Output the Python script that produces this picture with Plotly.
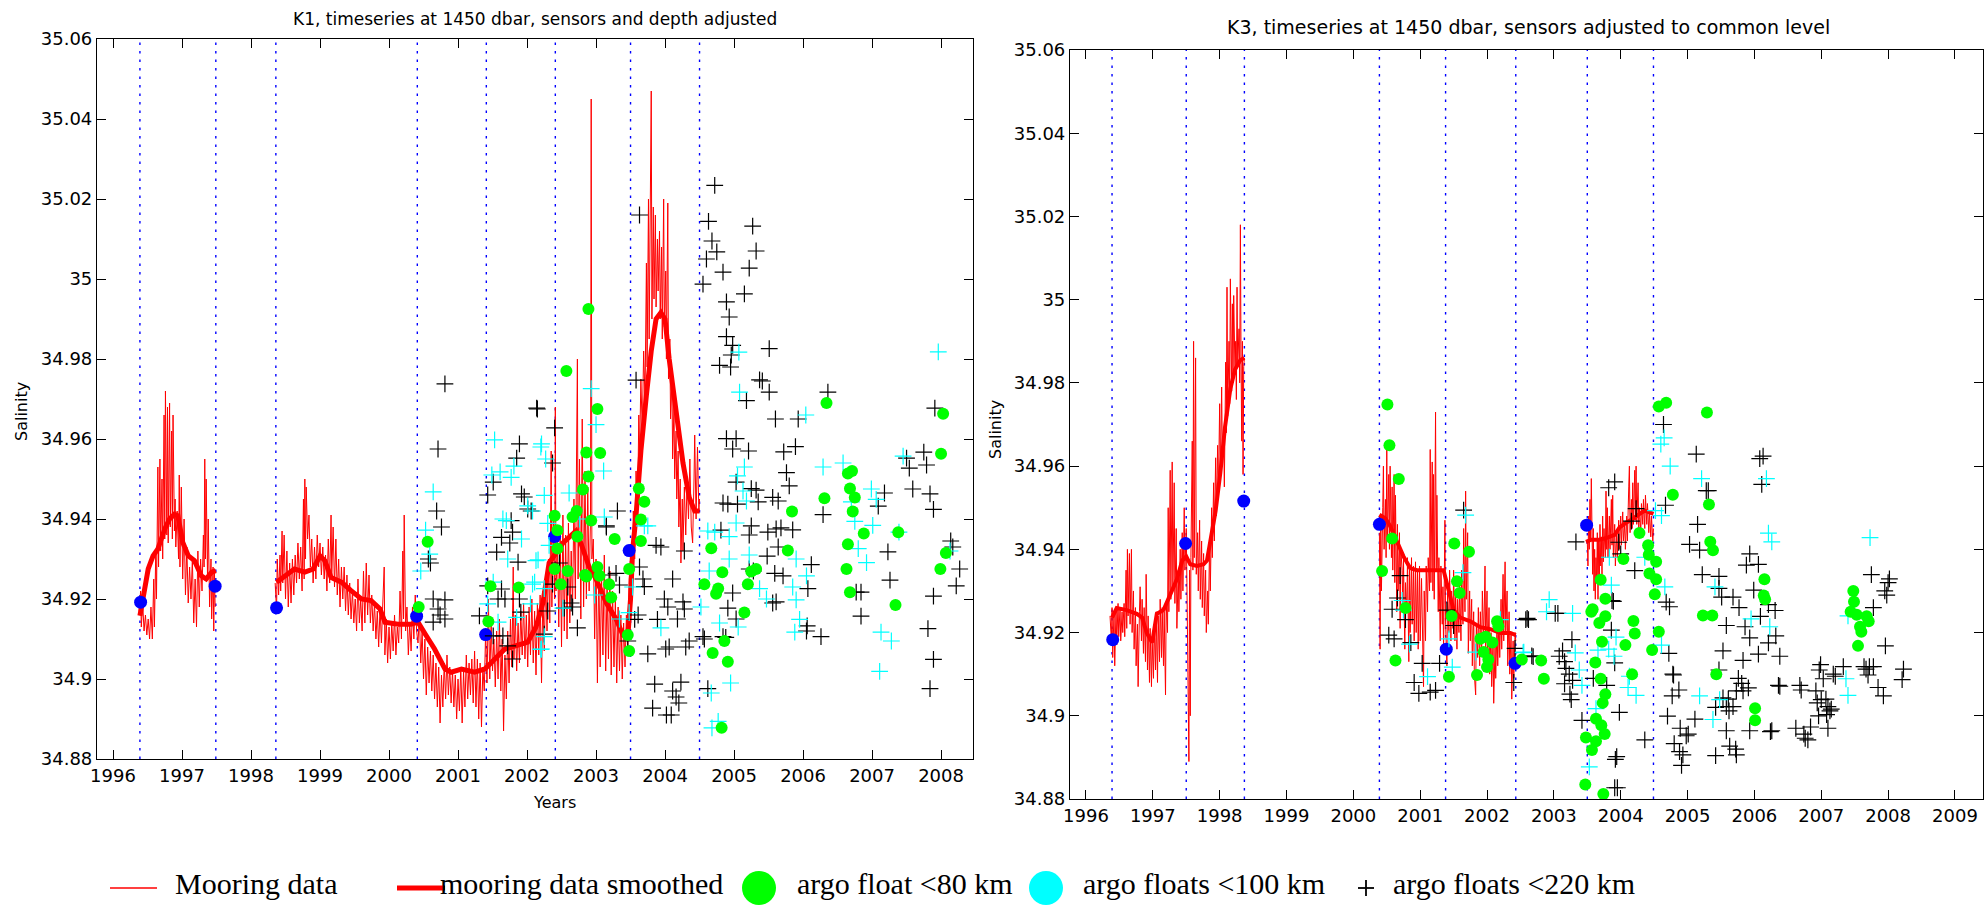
import plotly.graph_objects as go

# ---------------- DATA ----------------
deploy_k1 = [1996.39, 1997.49, 1998.36, 2000.41, 2001.41, 2002.41, 2003.50, 2004.50]
deploy_k3 = [1996.39, 1997.50, 1998.37, 2000.39, 2001.38, 2002.43, 2003.50, 2004.49]

years_k1 = [1996, 1997, 1998, 1999, 2000, 2001, 2002, 2003, 2004, 2005, 2006, 2007, 2008]
years_k3 = [1996, 1997, 1998, 1999, 2000, 2001, 2002, 2003, 2004, 2005, 2006, 2007, 2008, 2009]
sal_ticks = [34.88, 34.90, 34.92, 34.94, 34.96, 34.98, 35.00, 35.02, 35.04, 35.06]
sal_labels = ["34.88", "34.9", "34.92", "34.94", "34.96", "34.98", "35", "35.02", "35.04", "35.06"]

# K1 raw mooring data, segment 1
k1_raw1_t = [1996.38, 1996.40, 1996.41, 1996.43, 1996.45, 1996.47, 1996.49, 1996.51, 1996.53, 1996.55,
             1996.57, 1996.59, 1996.60, 1996.62, 1996.63, 1996.65, 1996.66, 1996.68, 1996.69, 1996.71,
             1996.72, 1996.74, 1996.75, 1996.76, 1996.78, 1996.79, 1996.80, 1996.82, 1996.83, 1996.85,
             1996.86, 1996.87, 1996.89, 1996.90, 1996.91, 1996.93, 1996.95, 1996.96, 1996.97, 1996.99,
             1997.01, 1997.03, 1997.05, 1997.07, 1997.09, 1997.11, 1997.13, 1997.15, 1997.17, 1997.19,
             1997.21, 1997.23, 1997.25, 1997.27, 1997.29, 1997.31, 1997.32, 1997.33, 1997.34, 1997.35,
             1997.37, 1997.38, 1997.40, 1997.42, 1997.43, 1997.45, 1997.46, 1997.47, 1997.48]
k1_raw1_s = [34.917, 34.922, 34.913, 34.919, 34.912, 34.916, 34.911, 34.915, 34.910, 34.918,
             34.910, 34.925, 34.913, 34.932, 34.920, 34.953, 34.928, 34.955, 34.932, 34.950,
             34.930, 34.966, 34.935, 34.972, 34.936, 34.968, 34.934, 34.969, 34.938, 34.962,
             34.935, 34.966, 34.937, 34.945, 34.933, 34.942, 34.930, 34.951, 34.928, 34.948,
             34.925, 34.940, 34.921, 34.933, 34.919, 34.928, 34.920, 34.930, 34.914, 34.925,
             34.913, 34.932, 34.918, 34.930, 34.922, 34.936, 34.928, 34.955, 34.930, 34.950,
             34.925, 34.940, 34.918, 34.930, 34.915, 34.928, 34.912, 34.927, 34.918]

# K1 raw mooring data, segment 2
k1_raw2_t = [1998.35, 1998.37, 1998.38, 1998.40, 1998.42, 1998.43, 1998.45, 1998.46, 1998.48, 1998.50,
             1998.52, 1998.54, 1998.56, 1998.58, 1998.60, 1998.62, 1998.64, 1998.66, 1998.68, 1998.70,
             1998.72, 1998.74, 1998.76, 1998.77, 1998.78, 1998.79, 1998.80, 1998.82, 1998.84, 1998.86,
             1998.88, 1998.90, 1998.92, 1998.94, 1998.96, 1998.98, 1999.00, 1999.02, 1999.04, 1999.06,
             1999.08, 1999.10, 1999.12, 1999.14, 1999.16, 1999.17, 1999.19, 1999.21, 1999.23, 1999.25,
             1999.27, 1999.29, 1999.31, 1999.33, 1999.35, 1999.37, 1999.39, 1999.41, 1999.43, 1999.45,
             1999.47, 1999.49, 1999.51, 1999.53, 1999.55, 1999.57, 1999.59, 1999.61, 1999.63, 1999.65,
             1999.67, 1999.69, 1999.71, 1999.73, 1999.75, 1999.77, 1999.79, 1999.81, 1999.83, 1999.85,
             1999.87, 1999.89, 1999.91, 1999.93, 1999.94, 1999.96, 1999.98, 2000.00, 2000.02, 2000.04,
             2000.06, 2000.08, 2000.10, 2000.12, 2000.14, 2000.16, 2000.18, 2000.20, 2000.21, 2000.22,
             2000.24, 2000.26, 2000.28, 2000.30, 2000.32, 2000.34, 2000.36, 2000.38, 2000.40, 2000.42,
             2000.44, 2000.46, 2000.48, 2000.50, 2000.52, 2000.54, 2000.56, 2000.58, 2000.60, 2000.62,
             2000.64, 2000.66, 2000.68, 2000.70, 2000.72, 2000.74, 2000.76, 2000.78, 2000.80, 2000.82,
             2000.84, 2000.86, 2000.88, 2000.90, 2000.92, 2000.94, 2000.96, 2000.98, 2001.00, 2001.02,
             2001.04, 2001.06, 2001.08, 2001.10, 2001.12, 2001.14, 2001.16, 2001.18, 2001.20, 2001.22,
             2001.24, 2001.26, 2001.28, 2001.30, 2001.32, 2001.34, 2001.36, 2001.38, 2001.40, 2001.42,
             2001.44, 2001.46, 2001.48, 2001.50, 2001.52, 2001.54, 2001.56, 2001.58, 2001.60, 2001.62,
             2001.64, 2001.66, 2001.68, 2001.70, 2001.72, 2001.74, 2001.76, 2001.78, 2001.80, 2001.81,
             2001.83, 2001.85, 2001.87, 2001.89, 2001.91, 2001.93, 2001.95, 2001.97, 2001.99, 2002.01,
             2002.03, 2002.05, 2002.07, 2002.09, 2002.11, 2002.13, 2002.15, 2002.17, 2002.19, 2002.21,
             2002.23, 2002.25, 2002.27, 2002.29, 2002.31, 2002.33, 2002.35, 2002.36, 2002.38, 2002.40,
             2002.41, 2002.42, 2002.44, 2002.46, 2002.48, 2002.50, 2002.52, 2002.54, 2002.56, 2002.58,
             2002.60, 2002.62, 2002.64, 2002.66, 2002.68, 2002.70, 2002.72, 2002.73, 2002.74, 2002.76,
             2002.78, 2002.80, 2002.82, 2002.84, 2002.86, 2002.88, 2002.90, 2002.92, 2002.93, 2002.94,
             2002.96, 2002.98, 2003.00, 2003.02, 2003.04, 2003.06, 2003.08, 2003.10, 2003.12, 2003.14,
             2003.16, 2003.18, 2003.20, 2003.22, 2003.24, 2003.26, 2003.28, 2003.30, 2003.32, 2003.34,
             2003.36, 2003.38, 2003.40, 2003.42, 2003.44, 2003.46, 2003.48, 2003.50, 2003.52, 2003.54,
             2003.56, 2003.58, 2003.60, 2003.62, 2003.63, 2003.65, 2003.67, 2003.69, 2003.71, 2003.73,
             2003.74, 2003.76, 2003.77, 2003.79, 2003.80, 2003.81, 2003.83, 2003.84, 2003.86, 2003.87,
             2003.89, 2003.90, 2003.92, 2003.93, 2003.95, 2003.96, 2003.98, 2003.99, 2004.01, 2004.02,
             2004.04, 2004.05, 2004.07, 2004.08, 2004.10, 2004.11, 2004.13, 2004.14, 2004.16, 2004.17,
             2004.19, 2004.20, 2004.22, 2004.23, 2004.25, 2004.26, 2004.28, 2004.30, 2004.32, 2004.34,
             2004.36, 2004.38, 2004.40, 2004.42, 2004.43, 2004.45, 2004.46, 2004.47, 2004.49, 2004.50]
k1_raw2_s = [34.924, 34.917, 34.930, 34.921, 34.931, 34.922, 34.937, 34.924, 34.936, 34.920,
             34.932, 34.918, 34.929, 34.919, 34.930, 34.921, 34.931, 34.924, 34.934, 34.925,
             34.933, 34.922, 34.945, 34.925, 34.950, 34.930, 34.948, 34.935, 34.941, 34.928,
             34.935, 34.924, 34.933, 34.925, 34.936, 34.928, 34.934, 34.926, 34.933, 34.925,
             34.931, 34.922, 34.935, 34.924, 34.941, 34.926, 34.938, 34.923, 34.935, 34.921,
             34.930, 34.918, 34.928, 34.920, 34.928, 34.917, 34.926, 34.916, 34.924, 34.915,
             34.922, 34.914, 34.920, 34.912, 34.925, 34.914, 34.920, 34.912, 34.927, 34.914,
             34.929, 34.916, 34.926, 34.914, 34.921, 34.912, 34.919, 34.910, 34.917, 34.908,
             34.918, 34.909, 34.919, 34.928, 34.906, 34.915, 34.904, 34.913, 34.905, 34.914,
             34.907, 34.916, 34.906, 34.913, 34.909, 34.922, 34.910, 34.932, 34.915, 34.941,
             34.912, 34.918, 34.906, 34.914, 34.907, 34.918, 34.910, 34.921, 34.912, 34.909,
             34.916, 34.904, 34.912, 34.900, 34.910, 34.896, 34.908, 34.899, 34.907, 34.897,
             34.906, 34.895, 34.904, 34.893, 34.903, 34.889, 34.901, 34.893, 34.904, 34.895,
             34.906, 34.896, 34.903, 34.894, 34.902, 34.893, 34.901, 34.890, 34.900, 34.892,
             34.903, 34.889, 34.902, 34.893, 34.906, 34.895, 34.904, 34.896, 34.905, 34.894,
             34.907, 34.893, 34.905, 34.890, 34.904, 34.888, 34.903, 34.897, 34.912, 34.899,
             34.920, 34.900, 34.914, 34.902, 34.910, 34.898, 34.912, 34.900, 34.915, 34.897,
             34.910, 34.887, 34.906, 34.895, 34.912, 34.899, 34.915, 34.903, 34.928, 34.905,
             34.916, 34.902, 34.914, 34.904, 34.917, 34.906, 34.919, 34.905, 34.916, 34.903,
             34.918, 34.906, 34.920, 34.904, 34.917, 34.901, 34.919, 34.906, 34.921, 34.899,
             34.922, 34.907, 34.925, 34.912, 34.930, 34.914, 34.957, 34.918, 34.940, 34.920,
             34.968, 34.922, 34.935, 34.913, 34.938, 34.908, 34.941, 34.912, 34.936, 34.910,
             34.939, 34.914, 34.932, 34.918, 34.945, 34.920, 34.960, 34.980, 34.925, 34.955,
             34.915, 34.965, 34.918, 34.952, 34.920, 34.948, 34.922, 34.940, 35.045, 34.930,
             34.935, 34.910, 34.930, 34.899, 34.928, 34.903, 34.926, 34.906, 34.931, 34.902,
             34.924, 34.905, 34.927, 34.901, 34.922, 34.903, 34.920, 34.899, 34.918, 34.902,
             34.916, 34.900, 34.914, 34.903, 34.916, 34.908, 34.925, 34.930, 34.920, 34.942,
             34.930, 34.952, 34.940, 34.966, 34.955, 34.975, 34.962, 34.982, 34.970, 35.004,
             34.978, 35.020, 34.985, 35.018, 35.047, 34.990, 35.018, 34.995, 35.016, 34.993,
             35.010, 34.997, 35.012, 34.990, 35.008, 34.985, 35.020, 34.988, 35.002, 34.980,
             35.019, 34.975, 34.985, 34.965, 34.975, 34.955, 34.968, 34.950, 34.962, 34.945,
             34.957, 34.938, 34.950, 34.929, 34.945, 34.932, 34.948, 34.936, 34.950, 34.940,
             34.955, 34.938, 34.934, 34.950, 34.961, 34.940, 34.950, 34.958, 34.942, 34.945]

# K1 smoothed
k1_sm1_t = [1996.39, 1996.44, 1996.51, 1996.58, 1996.65, 1996.75, 1996.82, 1996.89, 1996.94, 1997.01,
            1997.09, 1997.18, 1997.28, 1997.35, 1997.43, 1997.49]
k1_sm1_s = [34.9158, 34.9208, 34.9275, 34.9308, 34.9325, 34.9375, 34.9400, 34.9412, 34.9408, 34.9342,
            34.9308, 34.9296, 34.9258, 34.9250, 34.9267, 34.9271]
k1_sm2_t = [1998.37, 1998.49, 1998.63, 1998.78, 1998.90, 1999.00, 1999.07, 1999.16, 1999.31, 1999.45,
            1999.60, 1999.74, 1999.87, 1999.94, 2000.13, 2000.32, 2000.42, 2000.54, 2000.66, 2000.81,
            2000.90, 2001.05, 2001.24, 2001.39, 2001.48, 2001.58, 2001.68, 2001.82, 2002.01, 2002.13,
            2002.23, 2002.32, 2002.52, 2002.71, 2002.78, 2002.90, 2003.00, 2003.15, 2003.29, 2003.39,
            2003.46, 2003.50, 2003.53, 2003.58, 2003.65, 2003.73, 2003.80, 2003.87, 2003.94, 2004.00,
            2004.06, 2004.16, 2004.26, 2004.35, 2004.43, 2004.50]
k1_sm2_s = [34.9242, 34.9258, 34.9275, 34.9267, 34.9275, 34.9308, 34.9296, 34.9254, 34.9242, 34.9221,
            34.9200, 34.9196, 34.9175, 34.9142, 34.9137, 34.9137, 34.9142, 34.9108, 34.9075, 34.9025,
            34.9017, 34.9025, 34.9017, 34.9025, 34.9042, 34.9058, 34.9075, 34.9083, 34.9092, 34.9130,
            34.9190, 34.9290, 34.9340, 34.9370, 34.9340, 34.9280, 34.9250, 34.9190, 34.9150, 34.9110,
            34.9105, 34.9200, 34.9320, 34.9410, 34.9570, 34.9710, 34.9820, 34.9900, 34.9916, 34.9900,
            34.9800, 34.9670, 34.9540, 34.9454, 34.9420, 34.9420]

k1_blue_t = [1996.40, 1997.48, 1998.37, 2000.40, 2001.40, 2002.40, 2003.48]
k1_blue_s = [34.9192, 34.9232, 34.9178, 34.9157, 34.9111, 34.9356, 34.9321]

k1_green_t = [2000.56, 2000.43, 2001.47, 2001.44, 2001.88, 2002.89, 2002.57, 2003.02, 2002.86, 2003.06,
              2002.89, 2002.81, 2002.40, 2002.66, 2002.93, 2002.73, 2002.44, 2002.44, 2002.40, 2002.59,
              2002.49, 2002.86, 2003.02, 2003.05, 2003.19, 2003.22, 2003.27, 2003.62, 2003.70, 2003.65,
              2003.65, 2003.48, 2003.46, 2003.48, 2004.67, 2004.83, 2004.57, 2004.77, 2004.74, 2004.86,
              2004.69, 2004.91, 2004.82, 2005.15, 2005.25, 2005.32, 2005.20, 2005.78, 2005.84, 2006.34,
              2006.31, 2006.65, 2006.71, 2006.68, 2006.75, 2006.72, 2006.65, 2006.63, 2006.68, 2006.88,
              2007.38, 2007.34, 2008.03, 2008.00, 2008.07, 2007.99, 2002.72, 2002.84]
k1_green_s = [34.9343, 34.9180, 34.9232, 34.9144, 34.9229, 34.9925, 34.9770, 34.9675, 34.9566, 34.9565,
              34.9506, 34.9474, 34.9408, 34.9405, 34.9396, 34.9356, 34.9372, 34.9326, 34.9275, 34.9270,
              34.9237, 34.9256, 34.9280, 34.9258, 34.9237, 34.9204, 34.9350, 34.9476, 34.9443, 34.9399,
              34.9345, 34.9275, 34.9110, 34.9070, 34.9327, 34.9267, 34.9237, 34.9226, 34.9213, 34.9095,
              34.9065, 34.9043, 34.8878, 34.9166, 34.9269, 34.9275, 34.9237, 34.9321, 34.9419, 34.9690,
              34.9452, 34.9514, 34.9520, 34.9476, 34.9454, 34.9419, 34.9337, 34.9275, 34.9217, 34.9364,
              34.9367, 34.9185, 34.9663, 34.9563, 34.9315, 34.9275, 34.9420, 34.9260]

k1_cyan_t = [2000.53, 2000.64, 2000.46, 2000.59, 2001.53, 2001.49, 2001.61, 2001.77, 2001.81, 2001.65,
             2001.70, 2001.92, 2001.72, 2002.16, 2002.01, 2002.21, 2001.51, 2001.43, 2002.05, 2001.85,
             2001.58, 2002.11, 2002.21, 2002.93, 2003.00, 2003.11, 2002.20, 2002.27, 2002.25, 2002.61,
             2002.08, 2002.30, 2002.76, 2003.12, 2002.13, 2002.32, 2002.08, 2002.25, 2002.98, 2002.52,
             2003.34, 2003.48, 2003.53, 2003.70, 2003.75, 2002.25, 2002.20, 2003.94, 2004.62, 2004.72,
             2004.93, 2004.79, 2004.52, 2004.64, 2004.67, 2004.68, 2004.77, 2004.95, 2005.07, 2005.08,
             2005.15, 2005.05, 2005.13, 2005.18, 2005.03, 2004.93, 2005.22, 2005.37, 2005.47, 2005.06,
             2005.90, 2006.05, 2005.85, 2005.90, 2005.95, 2005.88, 2006.04, 2006.29, 2006.58, 2006.70,
             2006.75, 2006.99, 2007.06, 2007.01, 2006.80, 2006.92, 2007.13, 2007.28, 2007.11, 2007.45,
             2007.39, 2007.96, 2008.13]
k1_cyan_s = [34.9372, 34.9468, 34.9270, 34.9312, 34.9598, 34.9510, 34.9518, 34.9504, 34.9532, 34.9400,
             34.9396, 34.9350, 34.9300, 34.9298, 34.9433, 34.9588, 34.9242, 34.9188, 34.9188, 34.9154,
             34.9142, 34.9242, 34.9075, 34.9726, 34.9636, 34.9520, 34.9580, 34.9550, 34.9459, 34.9465,
             34.9420, 34.9389, 34.9400, 34.9405, 34.9296, 34.9334, 34.9237, 34.9226, 34.9210, 34.9177,
             34.9150, 34.9166, 34.9230, 34.9383, 34.9383, 34.9106, 34.9074, 34.9128, 34.9370, 34.9367,
             34.9356, 34.9140, 34.9180, 34.9270, 34.8965, 34.8878, 34.8894, 34.8990, 34.9817, 34.9717,
             34.9530, 34.9508, 34.9470, 34.9445, 34.9390, 34.9300, 34.9310, 34.9226, 34.9200, 34.9130,
             34.9300, 34.9258, 34.9230, 34.9198, 34.9149, 34.9117, 34.9660, 34.9530, 34.9540, 34.9443,
             34.9394, 34.9475, 34.9449, 34.9384, 34.9326, 34.9291, 34.9117, 34.9095, 34.9019, 34.9557,
             34.9367, 34.9818, 34.9320]

k1_black_t = [2000.81, 2000.71, 2000.69, 2000.76, 2000.57, 2000.60, 2000.64, 2000.81, 2000.71, 2000.64,
              2000.81, 2000.74, 2002.14, 2001.89, 2001.85, 2001.51, 2001.43, 2001.92, 2001.96, 2002.01,
              2001.77, 2001.79, 2001.63, 2001.75, 2001.56, 2001.87, 2001.43, 2001.63, 2001.58, 2001.68,
              2001.89, 2001.91, 2001.31, 2001.51, 2001.65, 2001.72, 2001.79, 2002.15, 2002.40, 2002.37,
              2002.06, 2003.31, 2003.15, 2003.63, 2003.58, 2004.72, 2004.63, 2004.68, 2004.75, 2004.60,
              2004.55, 2004.84, 2005.27, 2005.32, 2005.22, 2005.15, 2004.89, 2004.93, 2004.89, 2004.98,
              2004.96, 2004.79, 2004.95, 2005.51, 2005.37, 2005.41, 2005.51, 2005.18, 2005.60, 2005.93,
              2006.36, 2004.89, 2005.03, 2004.98, 2005.21, 2005.72, 2005.89, 2005.76, 2005.80, 2007.75,
              2007.79, 2007.50, 2007.54, 2007.59, 2007.84, 2007.89, 2007.91, 2007.18, 2007.09, 2004.84,
              2004.91, 2005.05, 2005.03, 2005.25, 2005.32, 2005.35, 2005.56, 2005.64, 2005.25, 2005.22,
              2005.49, 2005.61, 2005.68, 2005.85, 2004.81, 2006.29, 2005.64, 2005.48, 2005.59, 2005.71,
              2006.12, 2006.07, 2007.23, 2007.26, 2008.14, 2008.17, 2008.27, 2008.22, 2007.89, 2007.81,
              2007.89, 2007.84, 2006.84, 2006.77, 2006.84, 2006.26, 2006.06, 2006.05, 2005.61, 2005.56,
              2004.98, 2004.91, 2005.03, 2004.84, 2004.88, 2005.22, 2005.28, 2004.11, 2003.87, 2003.94,
              2004.28, 2003.99, 2004.04, 2004.26, 2004.28, 2003.89, 2004.18, 2004.35, 2004.30, 2004.06,
              2004.01, 2003.75, 2003.85, 2004.23, 2004.11, 2004.16, 2004.20, 2003.82, 2004.02, 2004.09,
              2004.62, 2004.55, 2004.57, 2003.70, 2003.68, 2003.63, 2003.56, 2003.61, 2003.46, 2003.29,
              2003.34, 2002.73, 2002.66, 2002.59, 2002.47, 2002.37, 2002.30, 2002.25, 2002.54, 2002.64,
              2003.15, 2003.19]
k1_black_s = [34.9738, 34.9575, 34.9420, 34.9380, 34.9300, 34.9290, 34.9200, 34.9198, 34.9175, 34.9142,
              34.9150, 34.9160, 34.9677, 34.9588, 34.9552, 34.9492, 34.9460, 34.9463, 34.9455, 34.9425,
              34.9396, 34.9367, 34.9354, 34.9340, 34.9317, 34.9292, 34.9233, 34.9225, 34.9200, 34.9200,
              34.9200, 34.9167, 34.9158, 34.9108, 34.9108, 34.9083, 34.9050, 34.9675, 34.9628, 34.9540,
              34.9420, 34.9420, 34.9383, 35.0160, 34.9747, 35.0234, 35.0144, 35.0095, 35.0068, 35.0050,
              34.9987, 35.0017, 35.0132, 35.0070, 35.0027, 34.9963, 34.9943, 34.9905, 34.9856, 34.9834,
              34.9810, 34.9784, 34.9780, 34.9826, 34.9748, 34.9745, 34.9717, 34.9696, 34.9650, 34.9650,
              34.9717, 34.9601, 34.9601, 34.9575, 34.9570, 34.9568, 34.9581, 34.9516, 34.9483, 34.9567,
              34.9535, 34.9552, 34.9527, 34.9475, 34.9463, 34.9424, 34.9677, 34.9465, 34.9432, 34.9440,
              34.9437, 34.9437, 34.9492, 34.9476, 34.9472, 34.9443, 34.9454, 34.9445, 34.9383, 34.9360,
              34.9367, 34.9375, 34.9378, 34.9373, 34.9372, 34.9411, 34.9330, 34.9307, 34.9264, 34.9258,
              34.9286, 34.9226, 34.9318, 34.9247, 34.9345, 34.9330, 34.9275, 34.9233, 34.9207, 34.9126,
              34.9049, 34.8976, 34.9157, 34.9217, 34.9217, 34.9106, 34.9133, 34.9120, 34.9193, 34.9190,
              34.9215, 34.9177, 34.9150, 34.9106, 34.9104, 34.9275, 34.9270, 34.9250, 34.9334, 34.9330,
              34.9320, 34.9200, 34.9180, 34.9193, 34.9175, 34.9149, 34.9150, 34.9095, 34.9080, 34.9080,
              34.9075, 34.9063, 34.8987, 34.8992, 34.8970, 34.8955, 34.8940, 34.8927, 34.8910, 34.8910,
              34.8976, 34.9106, 34.9100, 34.9231, 34.9250, 34.9280, 34.9149, 34.9160, 34.9095, 34.9264,
              34.9235, 34.9128, 34.9180, 34.9230, 34.9290, 34.9237, 34.9170, 34.9112, 34.9177, 34.9190,
              34.9380, 34.9260]

# K3 raw mooring data
k3_raw1_t = [1996.36, 1996.38, 1996.39, 1996.40, 1996.42, 1996.43, 1996.45, 1996.46, 1996.48, 1996.49,
             1996.51, 1996.52, 1996.54, 1996.55, 1996.57, 1996.58, 1996.60, 1996.61, 1996.62, 1996.63,
             1996.65, 1996.66, 1996.68, 1996.69, 1996.71, 1996.72, 1996.74, 1996.75, 1996.77, 1996.78,
             1996.80, 1996.81, 1996.83, 1996.84, 1996.86, 1996.87, 1996.89, 1996.90, 1996.92, 1996.93,
             1996.95, 1996.96, 1996.98, 1996.99, 1997.01, 1997.02, 1997.04, 1997.05, 1997.07, 1997.08,
             1997.10, 1997.11, 1997.13, 1997.14, 1997.16, 1997.17, 1997.19, 1997.20, 1997.22, 1997.23,
             1997.24, 1997.26, 1997.27, 1997.29, 1997.30, 1997.32, 1997.33, 1997.35, 1997.36, 1997.38,
             1997.39, 1997.41, 1997.42, 1997.44, 1997.45, 1997.47, 1997.48, 1997.50, 1997.51, 1997.53,
             1997.54, 1997.55, 1997.56, 1997.57, 1997.59, 1997.60, 1997.61, 1997.62, 1997.64, 1997.65,
             1997.67, 1997.68, 1997.70, 1997.71, 1997.73, 1997.74, 1997.76, 1997.77, 1997.79, 1997.80,
             1997.82, 1997.83, 1997.85, 1997.86, 1997.88, 1997.89, 1997.91, 1997.92, 1997.94, 1997.95,
             1997.97, 1997.98, 1998.00, 1998.01, 1998.03, 1998.04, 1998.06, 1998.07, 1998.09, 1998.10,
             1998.11, 1998.12, 1998.14, 1998.15, 1998.16, 1998.18, 1998.19, 1998.20, 1998.21, 1998.23,
             1998.24, 1998.25, 1998.26, 1998.27, 1998.29, 1998.30, 1998.31, 1998.32, 1998.33, 1998.34,
             1998.35, 1998.36, 1998.37]
k3_raw1_s = [34.924, 34.918, 34.926, 34.914, 34.925, 34.912, 34.926, 34.917, 34.927, 34.919,
             34.926, 34.918, 34.925, 34.920, 34.927, 34.919, 34.935, 34.921, 34.940, 34.924,
             34.939, 34.922, 34.940, 34.920, 34.930, 34.916, 34.926, 34.912, 34.922, 34.907,
             34.925, 34.931, 34.918, 34.928, 34.915, 34.926, 34.913, 34.934, 34.911, 34.924,
             34.908, 34.921, 34.907, 34.918, 34.909, 34.922, 34.911, 34.925, 34.908, 34.924,
             34.913, 34.928, 34.914, 34.926, 34.912, 34.925, 34.905, 34.927, 34.920, 34.950,
             34.925, 34.959, 34.928, 34.961, 34.930, 34.956, 34.927, 34.945, 34.921, 34.935,
             34.925, 34.940, 34.928, 34.944, 34.930, 34.950, 34.935, 34.945, 34.932, 34.905,
             34.889, 34.935, 34.900, 34.938, 34.966, 34.935, 34.990, 34.938, 34.986, 34.934,
             34.944, 34.930, 34.947, 34.928, 34.942, 34.926, 34.939, 34.924, 34.935, 34.920,
             34.930, 34.922, 34.942, 34.930, 34.950, 34.938, 34.956, 34.942, 34.962, 34.948,
             34.965, 34.952, 34.975, 34.958, 34.979, 34.962, 34.968, 34.955, 34.985, 34.968,
             35.003, 34.972, 34.990, 34.975, 35.005, 34.978, 34.999, 34.980, 35.001, 34.982,
             34.990, 34.976, 35.003, 34.984, 34.993, 34.980, 35.018, 34.985, 34.966, 34.990,
             34.958, 34.984, 34.986]

k3_raw3_t = [2000.39, 2000.40, 2000.41, 2000.42, 2000.44, 2000.45, 2000.46, 2000.48, 2000.49, 2000.50,
             2000.51, 2000.53, 2000.54, 2000.55, 2000.57, 2000.58, 2000.59, 2000.61, 2000.62, 2000.63,
             2000.65, 2000.66, 2000.67, 2000.69, 2000.70, 2000.71, 2000.73, 2000.74, 2000.75, 2000.77,
             2000.78, 2000.80, 2000.81, 2000.83, 2000.84, 2000.85, 2000.87, 2000.88, 2000.90, 2000.91,
             2000.93, 2000.94, 2000.96, 2000.97, 2000.99, 2001.00, 2001.02, 2001.03, 2001.05, 2001.06,
             2001.08, 2001.09, 2001.11, 2001.12, 2001.14, 2001.15, 2001.16, 2001.18, 2001.19, 2001.20,
             2001.21, 2001.23, 2001.24, 2001.25, 2001.27, 2001.28, 2001.30, 2001.31, 2001.33, 2001.34,
             2001.35, 2001.37, 2001.38, 2001.40, 2001.41, 2001.43, 2001.44, 2001.46, 2001.47, 2001.49,
             2001.50, 2001.52, 2001.53, 2001.55, 2001.56, 2001.58, 2001.59, 2001.61, 2001.62, 2001.64,
             2001.65, 2001.67, 2001.68, 2001.69, 2001.71, 2001.72, 2001.74, 2001.75, 2001.77, 2001.78,
             2001.80, 2001.81, 2001.83, 2001.84, 2001.86, 2001.87, 2001.89, 2001.90, 2001.92, 2001.93,
             2001.95, 2001.97, 2001.98, 2002.00, 2002.01, 2002.03, 2002.04, 2002.06, 2002.07, 2002.09,
             2002.10, 2002.12, 2002.13, 2002.15, 2002.16, 2002.18, 2002.19, 2002.21, 2002.22, 2002.24,
             2002.25, 2002.27, 2002.28, 2002.30, 2002.31, 2002.33, 2002.34, 2002.36, 2002.37, 2002.39,
             2002.40, 2002.42, 2002.43]
k3_raw3_s = [34.944, 34.916, 34.948, 34.930, 34.950, 34.960, 34.940, 34.952, 34.938, 34.965,
             34.942, 34.958, 34.940, 34.960, 34.938, 34.955, 34.935, 34.958, 34.932, 34.953,
             34.925, 34.946, 34.930, 34.944, 34.921, 34.940, 34.935, 34.925, 34.938, 34.916,
             34.932, 34.925, 34.938, 34.913, 34.935, 34.920, 34.938, 34.922, 34.936, 34.918,
             34.937, 34.920, 34.935, 34.916, 34.936, 34.918, 34.933, 34.920, 34.907, 34.930,
             34.918, 34.936, 34.925, 34.938, 34.930, 34.964, 34.932, 34.961, 34.930, 34.958,
             34.928, 34.973, 34.935, 34.953, 34.925, 34.938, 34.918, 34.936, 34.922, 34.931,
             34.916, 34.947, 34.922, 34.912, 34.930, 34.920, 34.935, 34.918, 34.930, 34.921,
             34.935, 34.918, 34.930, 34.916, 34.928, 34.920, 34.932, 34.918, 34.935, 34.922,
             34.945, 34.925, 34.954, 34.928, 34.944, 34.915, 34.930, 34.918, 34.928, 34.912,
             34.925, 34.910, 34.905, 34.922, 34.914, 34.926, 34.912, 34.925, 34.915, 34.930,
             34.918, 34.936, 34.916, 34.930, 34.912, 34.926, 34.910, 34.920, 34.907, 34.918,
             34.903, 34.917, 34.909, 34.922, 34.912, 34.924, 34.914, 34.928, 34.916, 34.934,
             34.918, 34.937, 34.920, 34.930, 34.912, 34.925, 34.910, 34.920, 34.904, 34.918,
             34.909, 34.920, 34.918]

k3_raw4_t = [2003.50, 2003.51, 2003.52, 2003.53, 2003.54, 2003.55, 2003.56, 2003.57, 2003.58, 2003.59,
             2003.60, 2003.61, 2003.62, 2003.63, 2003.64, 2003.65, 2003.66, 2003.67, 2003.68, 2003.69,
             2003.70, 2003.71, 2003.72, 2003.73, 2003.74, 2003.75, 2003.77, 2003.78, 2003.79, 2003.80,
             2003.81, 2003.83, 2003.84, 2003.86, 2003.87, 2003.88, 2003.89, 2003.91, 2003.92, 2003.94,
             2003.95, 2003.97, 2003.98, 2004.00, 2004.01, 2004.03, 2004.04, 2004.06, 2004.07, 2004.09,
             2004.10, 2004.12, 2004.13, 2004.14, 2004.16, 2004.17, 2004.18, 2004.19, 2004.21, 2004.22,
             2004.23, 2004.24, 2004.26, 2004.27, 2004.28, 2004.30, 2004.31, 2004.33, 2004.34, 2004.36,
             2004.37, 2004.39, 2004.40, 2004.42, 2004.43, 2004.45, 2004.46, 2004.48, 2004.49]
k3_raw4_s = [34.942, 34.936, 34.948, 34.940, 34.952, 34.942, 34.957, 34.938, 34.934, 34.945,
             34.930, 34.940, 34.928, 34.938, 34.932, 34.944, 34.928, 34.942, 34.934, 34.946,
             34.936, 34.943, 34.934, 34.948, 34.937, 34.945, 34.938, 34.954, 34.940, 34.950,
             34.938, 34.948, 34.940, 34.952, 34.941, 34.953, 34.938, 34.946, 34.936, 34.944,
             34.938, 34.947, 34.940, 34.948, 34.941, 34.949, 34.942, 34.946, 34.940, 34.948,
             34.942, 34.955, 34.960, 34.944, 34.952, 34.945, 34.956, 34.946, 34.959, 34.947,
             34.960, 34.946, 34.956, 34.945, 34.950, 34.944, 34.951, 34.946, 34.952, 34.945,
             34.953, 34.946, 34.951, 34.944, 34.949, 34.943, 34.948, 34.942, 34.945]

# K3 smoothed
k3_sm1_t = [1996.39, 1996.46, 1996.61, 1996.76, 1996.84, 1996.91, 1996.99, 1997.06, 1997.16, 1997.26,
            1997.36, 1997.44, 1997.50, 1997.56, 1997.66, 1997.76, 1997.81, 1997.86, 1997.94, 1998.01,
            1998.08, 1998.16, 1998.23, 1998.31, 1998.37]
k3_sm1_s = [34.9236, 34.9259, 34.9254, 34.9245, 34.9236, 34.9199, 34.9176, 34.9245, 34.9254, 34.9291,
            34.9328, 34.9373, 34.9383, 34.9364, 34.9360, 34.9364, 34.9373, 34.9419, 34.9493, 34.9584,
            34.9694, 34.9786, 34.9832, 34.9855, 34.9860]
k3_sm3_t = [2000.39, 2000.48, 2000.55, 2000.65, 2000.75, 2000.85, 2000.95, 2001.15, 2001.35, 2001.40,
            2001.50, 2001.60, 2001.75, 2001.90, 2002.05, 2002.20, 2002.35, 2002.43]
k3_sm3_s = [34.9483, 34.9474, 34.9456, 34.9419, 34.9383, 34.9355, 34.9350, 34.9350, 34.9350, 34.9318,
            34.9254, 34.9236, 34.9227, 34.9213, 34.9208, 34.9199, 34.9199, 34.9194]
k3_sm4_t = [2003.48, 2003.56, 2003.68, 2003.78, 2003.91, 2003.98, 2004.08, 2004.18, 2004.28, 2004.36,
            2004.43, 2004.49]
k3_sm4_s = [34.9418, 34.9423, 34.9423, 34.9427, 34.9435, 34.9452, 34.9464, 34.9473, 34.9485, 34.9493,
            34.9489, 34.9485]

k3_blue_t = [1996.40, 1997.49, 1998.36, 2000.39, 2001.39, 2002.42, 2003.49]
k3_blue_s = [34.9183, 34.9414, 34.9516, 34.9460, 34.9160, 34.9126, 34.9458]

k3_green_t = [2000.51, 2000.54, 2000.68, 2000.58, 2000.43, 2000.78, 2000.63, 2001.51, 2001.73, 2001.55,
              2001.59, 2001.47, 2001.43, 2001.90, 2001.98, 2002.08, 2001.95, 2002.02, 2002.00, 2001.85,
              2002.15, 2002.17, 2002.52, 2002.81, 2002.85, 2004.57, 2004.68, 2005.29, 2004.78, 2005.32,
              2005.34, 2005.38, 2004.28, 2004.41, 2004.42, 2004.53, 2004.43, 2004.53, 2004.04, 2003.70,
              2004.51, 2003.77, 2003.58, 2003.56, 2003.77, 2003.68, 2004.19, 2004.21, 2004.07, 2003.72,
              2003.62, 2003.70, 2004.57, 2004.47, 2004.17, 2003.77, 2003.73, 2003.63, 2003.71, 2003.76,
              2003.48, 2003.63, 2003.57, 2003.47, 2003.74, 2005.23, 2005.37, 2005.43, 2006.15, 2006.14,
              2006.16, 2006.01, 2006.01, 2007.48, 2007.49, 2007.44, 2007.53, 2007.68, 2007.71, 2007.58,
              2007.60, 2007.55]
k3_green_s = [34.9748, 34.9650, 34.9569, 34.9426, 34.9348, 34.9259, 34.9133, 34.9414, 34.9394, 34.9323,
              34.9295, 34.9240, 34.9094, 34.9185, 34.9190, 34.9176, 34.9153, 34.9135, 34.9117, 34.9098,
              34.9227, 34.9215, 34.9135, 34.9133, 34.9089, 34.9743, 34.9752, 34.9729, 34.9531, 34.9508,
              34.9418, 34.9398, 34.9439, 34.9410, 34.9387, 34.9370, 34.9342, 34.9328, 34.9377, 34.9327,
              34.9292, 34.9281, 34.9256, 34.9250, 34.9239, 34.9223, 34.9228, 34.9198, 34.9170, 34.9178,
              34.9128, 34.9089, 34.9202, 34.9158, 34.9100, 34.9052, 34.9031, 34.8993, 34.8977, 34.8956,
              34.8948, 34.8939, 34.8918, 34.8835, 34.8812, 34.9241, 34.9241, 34.9100, 34.9328, 34.9289,
              34.9280, 34.9018, 34.8989, 34.9300, 34.9274, 34.9250, 34.9243, 34.9239, 34.9227, 34.9214,
              34.9202, 34.9168]

k3_cyan_t = [2001.68, 2001.64, 2000.73, 2000.75, 2000.84, 2001.43, 2001.48, 2001.11, 2001.83, 2002.20,
             2002.55, 2004.65, 2004.60, 2004.74, 2005.21, 2006.18, 2006.21, 2006.26, 2007.73, 2004.52,
             2004.61, 2003.83, 2004.36, 2003.86, 2004.66, 2005.41, 2002.93, 2002.89, 2003.28, 2005.95,
             2006.23, 2003.93, 2003.66, 2003.82, 2002.54, 2003.32, 2003.90, 2003.38, 2004.13, 2004.61,
             2003.42, 2004.11, 2004.23, 2005.18, 2005.48, 2005.38, 2007.37, 2007.40, 2003.63, 2003.53,
             2007.40]
k3_cyan_s = [34.9482, 34.9344, 34.9277, 34.9254, 34.9172, 34.9185, 34.9117, 34.9094, 34.9153, 34.9231,
             34.9153, 34.9668, 34.9653, 34.9600, 34.9570, 34.9570, 34.9439, 34.9418, 34.9428, 34.9493,
             34.9481, 34.9381, 34.9381, 34.9314, 34.9310, 34.9310, 34.9279, 34.9250, 34.9246, 34.9233,
             34.9214, 34.9189, 34.9158, 34.9160, 34.9152, 34.9151, 34.9143, 34.9110, 34.9095, 34.9170,
             34.9073, 34.9068, 34.9049, 34.9048, 34.9039, 34.8991, 34.9089, 34.9049, 34.9017, 34.8877,
             34.9240]

k3_black_t = [2001.65, 2000.70, 2000.66, 2000.58, 2000.78, 2000.53, 2000.61, 2000.86, 2001.03, 2000.91,
              2000.98, 2001.15, 2001.23, 2001.29, 2001.40, 2001.50, 2002.60, 2002.42, 2002.67, 2002.40,
              2005.13, 2006.13, 2006.08, 2006.11, 2004.64, 2005.28, 2005.31, 2004.67, 2003.91, 2003.82,
              2004.23, 2004.16, 2005.15, 2003.33, 2003.97, 2005.03, 2005.18, 2004.00, 2004.21, 2005.93,
              2005.88, 2006.06, 2005.22, 2005.47, 2005.47, 2005.51, 2005.68, 2005.77, 2005.99, 2008.02,
              2007.95, 2007.75, 2007.98, 2006.21, 2006.31, 2004.68, 2004.73, 2003.87, 2003.89, 2007.78,
              2005.58, 2005.86, 2006.09, 2005.93, 2006.21, 2006.32, 2005.53, 2006.06, 2006.38, 2005.83,
              2004.72, 2007.96, 2003.27, 2003.13, 2003.08, 2003.16, 2003.18, 2003.23, 2003.28, 2003.16,
              2003.24, 2003.26, 2002.69, 2002.58, 2002.62, 2003.02, 2003.06, 2003.86, 2003.91, 2003.79,
              2003.59, 2003.98, 2003.42, 2004.36, 2003.94, 2003.92, 2003.91, 2003.95, 2004.78, 2004.79,
              2004.77, 2004.87, 2004.70, 2005.11, 2004.89, 2005.01, 2004.98, 2004.80, 2004.88, 2004.93,
              2004.91, 2005.42, 2005.63, 2005.72, 2005.73, 2005.58, 2005.47, 2005.42, 2005.53, 2005.61,
              2005.58, 2005.62, 2005.68, 2005.73, 2005.81, 2005.83, 2005.91, 2005.76, 2005.93, 2006.26,
              2006.24, 2006.36, 2006.38, 2006.68, 2006.70, 2006.62, 2006.74, 2006.76, 2006.84, 2006.80,
              2006.92, 2006.94, 2006.97, 2006.99, 2007.03, 2007.07, 2007.00, 2007.10, 2007.13, 2007.15,
              2007.08, 2006.96, 2007.10, 2007.18, 2007.21, 2007.33, 2007.64, 2007.67, 2007.72, 2007.78,
              2007.70, 2007.85, 2007.93, 2008.23, 2008.21, 2008.00]
k3_black_s = [34.9494, 34.9337, 34.9283, 34.9256, 34.9231, 34.9194, 34.9185, 34.9176, 34.9126, 34.9080,
              34.9054, 34.9057, 34.9061, 34.9126, 34.9254, 34.9217, 34.9234, 34.9162, 34.9144, 34.9080,
              34.9629, 34.9624, 34.9618, 34.9556, 34.9700, 34.9541, 34.9541, 34.9506, 34.9562, 34.9548,
              34.9498, 34.9468, 34.9460, 34.9418, 34.9417, 34.9412, 34.9398, 34.9389, 34.9349, 34.9389,
              34.9362, 34.9364, 34.9339, 34.9335, 34.9306, 34.9285, 34.9285, 34.9260, 34.9302, 34.9329,
              34.9300, 34.9339, 34.9290, 34.9267, 34.9253, 34.9273, 34.9262, 34.9277, 34.9275, 34.9260,
              34.9217, 34.9214, 34.9239, 34.9187, 34.9175, 34.9192, 34.9156, 34.9148, 34.9143, 34.9133,
              34.9150, 34.9168, 34.9183, 34.9156, 34.9143, 34.9130, 34.9114, 34.9100, 34.9085, 34.9077,
              34.9052, 34.9039, 34.9142, 34.9231, 34.9231, 34.9246, 34.9246, 34.9206, 34.9127, 34.9073,
              34.9090, 34.9008, 34.8989, 34.8942, 34.8902, 34.8895, 34.8827, 34.8827, 34.9100, 34.9098,
              34.9048, 34.9062, 34.8999, 34.8992, 34.8970, 34.8956, 34.8952, 34.8933, 34.8914, 34.8906,
              34.8881, 34.8904, 34.8927, 34.8920, 34.8906, 34.8964, 34.9110, 34.9020, 34.9043, 34.9040,
              34.9022, 34.9012, 34.9022, 34.9060, 34.9078, 34.9060, 34.9067, 34.9090, 34.8964, 34.8964,
              34.8962, 34.9073, 34.9071, 34.9073, 34.9062, 34.8970, 34.8956, 34.8946, 34.8973, 34.8942,
              34.9060, 34.9031, 34.9110, 34.9123, 34.9089, 34.9040, 34.9039, 34.9022, 34.9012, 34.9016,
              34.9003, 34.9000, 34.8970, 34.9100, 34.9095, 34.9118, 34.9118, 34.9112, 34.9118, 34.9118,
              34.9098, 34.9068, 34.9048, 34.9112, 34.9087, 34.9320]

legend_labels = ["Mooring data", "mooring data smoothed", "argo float <80 km",
                 "argo floats <100 km", "argo floats <220 km"]

# ---------------- STYLE / LAYOUT ----------------
W, H = 1988, 906
RED, BLUE, GREEN, CYAN = "#ff0000", "#0000ff", "#00ff00", "#00ffff"
SANS = "DejaVu Sans, Liberation Sans, Arial, sans-serif"
SERIF = "Liberation Serif, Times New Roman, serif"


def px(x):
    return x / W


def py(y):
    return 1 - y / H


def seg(*parts):
    out = []
    for i, p in enumerate(parts):
        if i:
            out.append(None)
        out.extend(p)
    return out


fig = go.Figure()


def add_panel(xa, ya, raw_t, raw_s, sm_t, sm_s, blue_t, blue_s, blk_t, blk_s,
              cy_t, cy_s, gr_t, gr_s, sm_w, msize):
    fig.add_trace(go.Scatter(x=raw_t, y=raw_s, mode="lines", line=dict(color=RED, width=1),
                             xaxis=xa, yaxis=ya, showlegend=False, hoverinfo="skip"))
    fig.add_trace(go.Scatter(x=sm_t, y=sm_s, mode="lines", line=dict(color=RED, width=sm_w),
                             xaxis=xa, yaxis=ya, showlegend=False, hoverinfo="skip"))
    fig.add_trace(go.Scatter(x=blue_t, y=blue_s, mode="markers",
                             marker=dict(color=BLUE, size=msize + 1, line=dict(width=0)),
                             xaxis=xa, yaxis=ya, showlegend=False))
    fig.add_trace(go.Scatter(x=blk_t, y=blk_s, mode="markers",
                             marker=dict(symbol="cross-thin", size=msize,
                                         line=dict(color="black", width=1.2)),
                             xaxis=xa, yaxis=ya, showlegend=False))
    fig.add_trace(go.Scatter(x=cy_t, y=cy_s, mode="markers",
                             marker=dict(symbol="cross-thin", size=msize,
                                         line=dict(color=CYAN, width=1.2)),
                             xaxis=xa, yaxis=ya, showlegend=False))
    fig.add_trace(go.Scatter(x=gr_t, y=gr_s, mode="markers",
                             marker=dict(color=GREEN, size=msize, line=dict(width=0)),
                             xaxis=xa, yaxis=ya, showlegend=False))


add_panel("x", "y", seg(k1_raw1_t, k1_raw2_t), seg(k1_raw1_s, k1_raw2_s),
          seg(k1_sm1_t, k1_sm2_t), seg(k1_sm1_s, k1_sm2_s), k1_blue_t, k1_blue_s,
          k1_black_t, k1_black_s, k1_cyan_t, k1_cyan_s, k1_green_t, k1_green_s, 5, 12)
add_panel("x2", "y2", seg(k3_raw1_t, k3_raw3_t, k3_raw4_t), seg(k3_raw1_s, k3_raw3_s, k3_raw4_s),
          seg(k3_sm1_t, k3_sm3_t, k3_sm4_t), seg(k3_sm1_s, k3_sm3_s, k3_sm4_s), k3_blue_t, k3_blue_s,
          k3_black_t, k3_black_s, k3_cyan_t, k3_cyan_s, k3_green_t, k3_green_s, 4, 12)

DOT = dict(color=BLUE, width=1.4, dash="2.5px,6px")
shapes = []
for t in deploy_k1:
    shapes.append(dict(type="line", xref="x", yref="y domain", x0=t, x1=t, y0=0, y1=1,
                       line=DOT, layer="below"))
for t in deploy_k3:
    shapes.append(dict(type="line", xref="x2", yref="y2 domain", x0=t, x1=t, y0=0, y1=1,
                       line=DOT, layer="below"))

tick_font = dict(family=SANS, size=18, color="black")
ax_common = dict(showline=True, linecolor="black", linewidth=1.2, mirror="allticks",
                 ticks="inside", ticklen=9, tickcolor="black", tickwidth=1.2,
                 showgrid=False, zeroline=False, automargin=False, tickfont=tick_font,
                 ticklabeloverflow="allow")

fig.update_layout(
    width=W, height=H, margin=dict(l=0, r=0, t=0, b=0),
    paper_bgcolor="white", plot_bgcolor="white", showlegend=False,
    xaxis=dict(domain=[px(97), px(973)], range=[1995.768, 2008.463], anchor="y",
               tickvals=years_k1, ticktext=[str(v) for v in years_k1], **ax_common),
    yaxis=dict(domain=[py(759), py(39)], range=[34.88, 35.06], anchor="x",
               tickvals=sal_ticks, ticktext=sal_labels, **ax_common),
    xaxis2=dict(domain=[px(1070), px(1983)], range=[1995.761, 2009.42], anchor="y2",
                tickvals=years_k3, ticktext=[str(v) for v in years_k3], **ax_common),
    yaxis2=dict(domain=[py(799), py(50)], range=[34.88, 35.06], anchor="x2",
                tickvals=sal_ticks, ticktext=sal_labels, **ax_common),
)

ann = []
label_font = dict(family=SANS, size=16, color="black")
ann.append(dict(text="K1, timeseries at 1450 dbar, sensors and depth adjusted", x=px(535), y=py(19),
                xref="paper", yref="paper", showarrow=False,
                font=dict(family=SANS, size=17, color="black"),
                xanchor="center", yanchor="middle"))
ann.append(dict(text="K3, timeseries at 1450 dbar, sensors adjusted to common level", x=px(1528), y=py(27),
                xref="paper", yref="paper", showarrow=False,
                font=dict(family=SANS, size=19, color="black"),
                xanchor="center", yanchor="middle"))
ann.append(dict(text="Salinity", x=px(21), y=py(412), xref="paper", yref="paper", showarrow=False,
                font=label_font, textangle=-90, xanchor="center", yanchor="middle"))
ann.append(dict(text="Salinity", x=px(995), y=py(430), xref="paper", yref="paper", showarrow=False,
                font=label_font, textangle=-90, xanchor="center", yanchor="middle"))
ann.append(dict(text="Years", x=px(554), y=py(802), xref="paper", yref="paper", showarrow=False,
                font=label_font, xanchor="center", yanchor="middle"))

# legend row
LY = 888
leg_font = dict(family=SERIF, size=30, color="black")
text_x = [173, 438, 795, 1081, 1391]
for lab, tx in zip(legend_labels, text_x):
    ann.append(dict(text=lab, x=px(tx), y=py(883), xref="paper", yref="paper", showarrow=False,
                    font=leg_font, xanchor="left", yanchor="middle"))
fig.update_layout(annotations=ann)

R = 17
leg_shapes = [
    dict(type="line", xref="paper", yref="paper", x0=px(110), x1=px(157), y0=py(LY), y1=py(LY),
         line=dict(color=RED, width=1.5)),
    dict(type="line", xref="paper", yref="paper", x0=px(397), x1=px(445), y0=py(LY), y1=py(LY),
         line=dict(color=RED, width=5)),
    dict(type="circle", xref="paper", yref="paper", x0=px(759 - R), x1=px(759 + R), y0=py(LY + R), y1=py(LY - R),
         fillcolor=GREEN, line=dict(width=0)),
    dict(type="circle", xref="paper", yref="paper", x0=px(1046 - R), x1=px(1046 + R), y0=py(LY + R), y1=py(LY - R),
         fillcolor=CYAN, line=dict(width=0)),
    dict(type="line", xref="paper", yref="paper", x0=px(1358), x1=px(1374), y0=py(LY), y1=py(LY),
         line=dict(color="black", width=1.8)),
    dict(type="line", xref="paper", yref="paper", x0=px(1366), x1=px(1366), y0=py(LY - 8), y1=py(LY + 8),
         line=dict(color="black", width=1.8)),
]
fig.update_layout(shapes=shapes + leg_shapes)

fig.write_html("out.html", config={"displayModeBar": False},
               post_script="document.body.style.margin='0px';document.body.style.overflow='hidden';")
